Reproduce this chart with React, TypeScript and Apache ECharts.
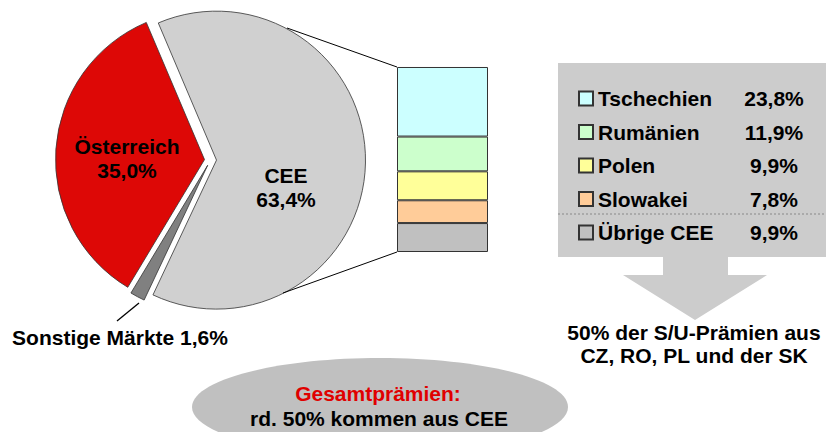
import React, { useEffect, useRef } from "react";
import * as echarts from "echarts";

// Pie: market shares (%)
const pieNames = ["CEE", "Sonstige Märkte", "Österreich"];
const pieValues = [63.4, 1.6, 35.0];
const pieColors = ["#d0d0d0", "#808080", "#dd0806"];

// CEE breakdown (%), top to bottom
const ceeNames = ["Tschechien", "Rumänien", "Polen", "Slowakei", "Übrige CEE"];
const ceeValues = [23.8, 11.9, 9.9, 7.8, 9.9];
const ceeColors = ["#ccffff", "#ccffcc", "#ffff99", "#ffcc99", "#c0c0c0"];

const arrowText = ["50% der S/U-Prämien aus", "CZ, RO, PL und der SK"];
const ellipseTitle = "Gesamtprämien:";
const ellipseText = "rd. 50% kommen aus CEE";

const FONT = "'Liberation Sans', Arial, Helvetica, sans-serif";
const FS = 21;
const fmt = (v: number) => v.toFixed(1).replace(".", ",") + "%";

export default function App() {
  const ref = useRef<HTMLDivElement>(null);
  useEffect(() => {
    if (!ref.current) return;
    const chart = echarts.init(ref.current, null, { renderer: "svg" });
    const barLeft = 397, barTop = 67, barW = 91, barH = 185;
    const total = ceeValues.reduce((a, b) => a + b, 0);
    const stackOrder = ceeNames.map((_, i) => i).reverse();

    // label anchor positions for the pie slices (index -> position)
    const pieLabelPos = [
      { x: 286, y: 187 },
      { x: 120, y: 337 },
      { x: 127, y: 158 },
    ];
    const pieLabelTexts = pieNames.map((n, i) =>
      i === 1 ? `${n} ${fmt(pieValues[i])}` : `${n}\n${fmt(pieValues[i])}`
    );

    const boldText = (text: string, x: number, y: number, fill = "#000", lh = 24) => ({
      type: "text",
      z: 20,
      silent: true,
      style: {
        text,
        x,
        y,
        align: "center",
        verticalAlign: "middle",
        font: `bold ${FS}px ${FONT}`,
        lineHeight: lh,
        fill,
      },
    });

    const option: any = {
      animation: false,
      grid: { left: barLeft, top: barTop, width: barW, height: barH },
      xAxis: { type: "category", data: ["CEE"], show: false },
      yAxis: { type: "value", min: 0, max: total, show: false },
      legend: {
        data: ceeNames,
        orient: "vertical",
        left: 578,
        top: 88,
        padding: 0,
        itemWidth: 14,
        itemHeight: 14,
        itemGap: 12.5,
        selectedMode: false,
        icon: "rect",
        z: 10,
        formatter: (name: string) => {
          const i = ceeNames.indexOf(name);
          return `{n|${name}}{v|${fmt(ceeValues[i])}}`;
        },
        textStyle: {
          rich: {
            n: { width: 145, fontSize: FS, fontWeight: "bold", fontFamily: FONT, color: "#000", lineHeight: 22 },
            v: { width: 62, align: "center", fontSize: FS, fontWeight: "bold", fontFamily: FONT, color: "#000", lineHeight: 22 },
          },
        },
      },
      series: [
        {
          type: "pie",
          center: [210.5, 160],
          radius: 149,
          startAngle: 113,
          clockwise: true,
          selectedMode: "multiple",
          selectedOffset: 6,
          silent: true,
          emphasis: { disabled: true },
          itemStyle: { borderColor: "#333", borderWidth: 0.8 },
          label: { show: false },
          labelLine: { show: false },
          data: pieNames.map((n, i) => ({
            name: n,
            value: pieValues[i],
            selected: true,
            itemStyle: { color: pieColors[i] },
          })),
        },
        ...stackOrder.map((i) => ({
          type: "bar",
          name: ceeNames[i],
          stack: "cee",
          barWidth: "100%",
          silent: true,
          itemStyle: { color: ceeColors[i], borderColor: "#333", borderWidth: 1 },
          data: [ceeValues[i]],
        })),
      ],
      graphic: [
        { type: "line", z: 5, shape: { x1: 287, y1: 28, x2: barLeft, y2: barTop }, style: { stroke: "#000", lineWidth: 1 } },
        { type: "line", z: 5, shape: { x1: 283, y1: 293, x2: barLeft, y2: barTop + barH }, style: { stroke: "#000", lineWidth: 1 } },
        { type: "line", z: 5, shape: { x1: 139, y1: 303, x2: 117, y2: 321 }, style: { stroke: "#000", lineWidth: 1.3 } },
        ...pieLabelTexts.map((t, i) => boldText(t, pieLabelPos[i].x, pieLabelPos[i].y)),
        { type: "rect", z: 0, shape: { x: 558, y: 63, width: 268, height: 194 }, style: { fill: "#cccccc" } },
        {
          type: "line",
          z: 1,
          shape: { x1: 558, y1: 214, x2: 826, y2: 214 },
          style: { stroke: "#888", lineWidth: 1, lineDash: [2, 2] },
        },
        {
          type: "polygon",
          z: 0,
          shape: {
            points: [
              [663, 256],
              [663, 275],
              [623, 275],
              [695, 320],
              [767, 275],
              [728, 275],
              [728, 256],
            ],
          },
          style: { fill: "#cccccc" },
        },
        boldText(arrowText.join("\n"), 694, 344, "#000", 23),
        { type: "ellipse", z: 0, shape: { cx: 380, cy: 407, rx: 188, ry: 49 }, style: { fill: "#c0c0c0" } },
        boldText(ellipseTitle, 378, 393, "#e00000"),
        boldText(ellipseText, 379, 418),
      ],
    };
    chart.setOption(option);
    return () => chart.dispose();
  }, []);
  return (
    <div
      ref={ref}
      style={{ position: "absolute", left: 0, top: 0, width: 826, height: 432, background: "#fff" }}
    />
  );
}
